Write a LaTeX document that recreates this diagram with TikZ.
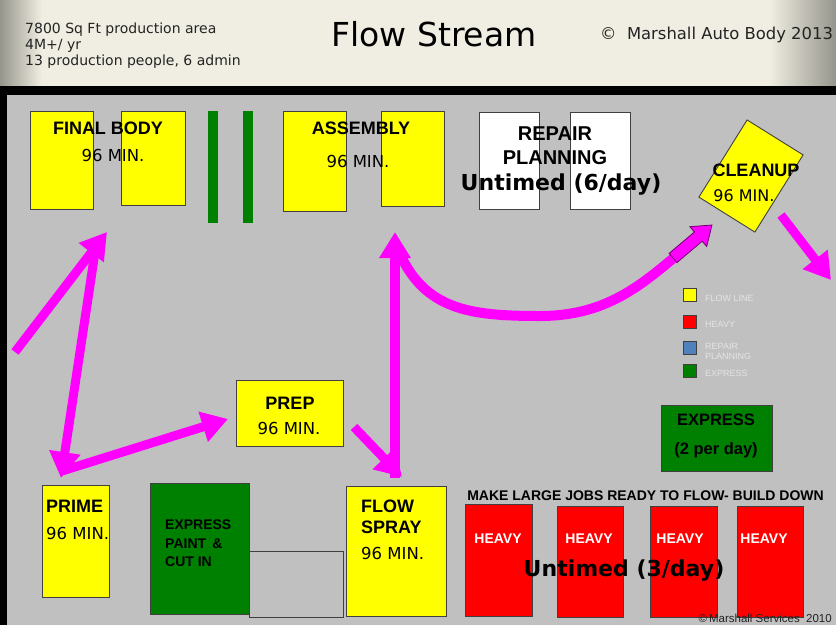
\documentclass[tikz,border=0pt]{standalone}
\usepackage{fontspec}
\setmainfont{DejaVu Sans}
\newfontfamily\arialf{Liberation Sans}
\usetikzlibrary{arrows.meta}

\definecolor{hdrlight}{RGB}{240,238,226}
\definecolor{hdrdark}{RGB}{150,149,140}
\definecolor{floor}{RGB}{192,192,192}
\definecolor{flowyellow}{RGB}{255,255,0}
\definecolor{heavyred}{RGB}{255,0,0}
\definecolor{exgreen}{RGB}{0,128,0}
\definecolor{planblue}{RGB}{79,129,189}
\definecolor{boxline}{RGB}{64,64,64}
\definecolor{flowmag}{RGB}{255,0,255}
\definecolor{magline}{RGB}{110,0,110}
\definecolor{legtext}{RGB}{228,228,228}
\definecolor{hdrtext}{RGB}{35,35,35}

% header shading: TikZ maps the path onto the middle 50bp of the shading
\pgfdeclarehorizontalshading{hdrshade}{100bp}{color(0bp)=(hdrdark); color(25bp)=(hdrdark); color(27.5bp)=(hdrlight); color(71bp)=(hdrlight); color(75bp)=(hdrdark); color(100bp)=(hdrdark)}

\tikzset{
  box/.style={draw=boxline, line width=0.9pt, inner sep=0pt, anchor=north west},
  ybox/.style={box, fill=flowyellow},
  rbox/.style={box, fill=heavyred},
  gbox/.style={box, fill=exgreen},
  wbox/.style={box, fill=white},
  bar/.style={fill=exgreen, inner sep=0pt, anchor=north west, minimum width=10pt, minimum height=112pt},
  legbox/.style={draw=boxline, line width=0.8pt, inner sep=0pt, minimum size=13pt, anchor=north west},
  lbl/.style={font=\arialf\bfseries\fontsize{18}{18}\selectfont, inner sep=0pt},
  mins/.style={font=\fontsize{16.5}{16.5}\selectfont, inner sep=0pt},
  untimed/.style={font=\bfseries\fontsize{22}{22}\selectfont, inner sep=0pt},
  legtxt/.style={font=\arialf\fontsize{9}{9}\selectfont, text=legtext, inner sep=0pt, anchor=west, align=left},
  hdr/.style={anchor=west, text=hdrtext, font=\fontsize{14}{14}\selectfont, inner sep=0pt},
  flow/.style={draw=flowmag, line width=9pt, -{Triangle[length=26pt,width=30pt]}},
}

\begin{document}
\begin{tikzpicture}[x=1pt,y=-1pt]
\useasboundingbox (0,0) rectangle (836,625);

% header band, black frame and shop floor
\shade[shading=hdrshade] (0,0) rectangle (836,86);
\fill[black] (0,86) rectangle (836,95);
\fill[black] (0,95) rectangle (7,625);
\fill[floor] (7,95) rectangle (836,625);

% header texts
\node[hdr] (h1) at (25,30) {7800 Sq Ft production area};
\node[hdr] (h2) at (25,46) {4M+/ yr};
\node[hdr] (h3) at (25,62) {13 production people, 6 admin};
\node[font=\fontsize{33}{33}\selectfont, inner sep=0pt] (title) at (434,34) {Flow Stream};
\node[anchor=west, text=hdrtext, font=\fontsize{16.4}{16.4}\selectfont, inner sep=0pt] (copy) at (600,35) {©\ \ Marshall Auto Body 2013};

% final body
\node[ybox, minimum width=63pt, minimum height=98pt] (fb1) at (30,111) {};
\node[ybox, minimum width=64pt, minimum height=94pt] (fb2) at (121,111) {};
\node[lbl] (fbt) at (108,128) {FINAL BODY};
\node[mins] (fbm) at (113,155) {96 MIN.};

% express bars
\node[bar] (bar1) at (208,111) {};
\node[bar] (bar2) at (243,111) {};

% assembly
\node[ybox, minimum width=63pt, minimum height=100pt] (as1) at (283,111) {};
\node[ybox, minimum width=63pt, minimum height=95pt] (as2) at (381,111) {};
\node[lbl] (ast) at (361,128) {ASSEMBLY};
\node[mins] (asm) at (358,161) {96 MIN.};

% repair planning
\node[wbox, minimum width=60pt, minimum height=97pt] (rp1) at (479,112) {};
\node[wbox, minimum width=60pt, minimum height=97pt] (rp2) at (570,112) {};
\node[lbl, font=\arialf\bfseries\fontsize{20}{20}\selectfont] (rpt1) at (555,134) {REPAIR};
\node[lbl, font=\arialf\bfseries\fontsize{20}{20}\selectfont] (rpt2) at (555,158) {PLANNING};
\node[untimed] (rpu) at (561,185) {Untimed (6/day)};

% cleanup
\node[draw=boxline, line width=0.9pt, fill=flowyellow, minimum width=66pt, minimum height=91pt, rotate=-32, inner sep=0pt] (cl) at (751,176) {};
\node[lbl] (clt) at (756,170) {CLEANUP};
\node[mins, font=\fontsize{16}{16}\selectfont] (clm) at (744,196) {96 MIN.};

% legend
\node[legbox, fill=flowyellow] (lg1) at (683,288) {};
\node[legbox, fill=heavyred] (lg2) at (683,315) {};
\node[legbox, fill=planblue] (lg3) at (683,341) {};
\node[legbox, fill=exgreen] (lg4) at (683,364) {};
\node[legtxt] (lt1) at (705,298) {FLOW LINE};
\node[legtxt] (lt2) at (705,324) {HEAVY};
\node[legtxt, font=\arialf\fontsize{9}{10}\selectfont] (lt3) at (705,351) {REPAIR\\PLANNING};
\node[legtxt] (lt4) at (705,373) {EXPRESS};

% express box
\node[gbox, minimum width=111pt, minimum height=66pt] (ex) at (661,405) {};
\node[lbl, font=\arialf\bfseries\fontsize{16.5}{16.5}\selectfont] (ext1) at (716,420) {EXPRESS};
\node[lbl, font=\arialf\bfseries\fontsize{16.5}{16.5}\selectfont] (ext2) at (716,450) {(2 per day)};

% prep
\node[ybox, minimum width=107pt, minimum height=66pt] (prep) at (236,380) {};
\node[lbl] (prt) at (290,403) {PREP};
\node[mins] (prm) at (289,428) {96 MIN.};

% prime
\node[ybox, minimum width=67pt, minimum height=112pt] (prime) at (42,485) {};
\node[lbl, anchor=west] (pmt) at (46,506) {PRIME};
\node[mins, anchor=west] (pmm) at (46,533) {96 MIN.};

% express paint
\node[gbox, minimum width=99pt, minimum height=131pt] (ep) at (150,483) {};
\node[box, draw=boxline, minimum width=94pt, minimum height=66pt] (epx) at (249,551) {};
\node[anchor=north west, inner sep=0pt, align=left, font=\arialf\bfseries\fontsize{14}{18.5}\selectfont] (ept) at (165,520) {EXPRESS\\PAINT \,\&\\CUT IN};

% flow spray
\node[ybox, minimum width=100pt, minimum height=130pt] (fs) at (346,486) {};
\node[lbl, anchor=west] (fst1) at (361,506) {FLOW};
\node[lbl, anchor=west] (fst2) at (361,527) {SPRAY};
\node[mins, anchor=west] (fsm) at (361,553) {96 MIN.};

% heavy line
\node[lbl, font=\arialf\bfseries\fontsize{14}{14}\selectfont] (mk) at (645.5,496) {MAKE LARGE JOBS READY TO FLOW- BUILD DOWN};
\node[rbox, minimum width=67pt, minimum height=112pt] (hv1) at (465,504) {};
\node[rbox, minimum width=66pt, minimum height=111pt] (hv2) at (557,506) {};
\node[rbox, minimum width=67pt, minimum height=111pt] (hv3) at (650,506) {};
\node[rbox, minimum width=66pt, minimum height=111pt] (hv4) at (737,506) {};
\foreach \n/\x in {hv1/498, hv2/589, hv3/680, hv4/764}
  \node[lbl, text=white, font=\arialf\bfseries\fontsize{14}{14}\selectfont] (\n t) at (\x,539) {HEAVY};
\node[untimed] (hvu) at (624,571) {Untimed (3/day)};
\node[anchor=east, inner sep=0pt, text=hdrtext, font=\arialf\fontsize{11.5}{11.5}\selectfont] (cs) at (832,618) {©\,Marshall Services \ 2010};

% flow path end points
\coordinate (a0) at (15,352);
\coordinate (a1) at (107,232);
\coordinate (b0) at (95,252);
\coordinate (b1) at (61,478);
\coordinate (c0) at (62,471);
\coordinate (c1) at (228,419);
\coordinate (d0) at (354,427);
\coordinate (d1) at (402,477);
\coordinate (e0) at (395,478);
\coordinate (e1) at (395,232);
\coordinate (f0) at (399,252);
\coordinate (f1) at (676,256);
\coordinate (g1) at (712,225);
\coordinate (k0) at (781,215);
\coordinate (k1) at (831,280);

% flow arrows
\draw[flow] (a0) -- (a1);
\draw[flow] (b0) -- (b1);
\draw[flow] (c0) -- (c1);
\draw[flow] (d0) -- (d1);
\draw[flow, line width=10pt] (e0) -- (e1);
\draw[draw=flowmag, line width=10pt] (f0) .. controls (425,310) and (470,316) .. (540,316) .. controls (605,316) and (640,286) .. (f1);
\draw[flow] (k0) -- (k1);

% outlined block arrow into cleanup
\filldraw[fill=flowmag, draw=magline, line width=0.8pt, line join=miter]
  (676.9,262.6) -- (669.1,253.4) -- (694.4,232.0) -- (689.9,226.7) -- (g1)
  -- (706.7,246.5) -- (702.2,241.2) -- cycle;
\end{tikzpicture}
\end{document}
